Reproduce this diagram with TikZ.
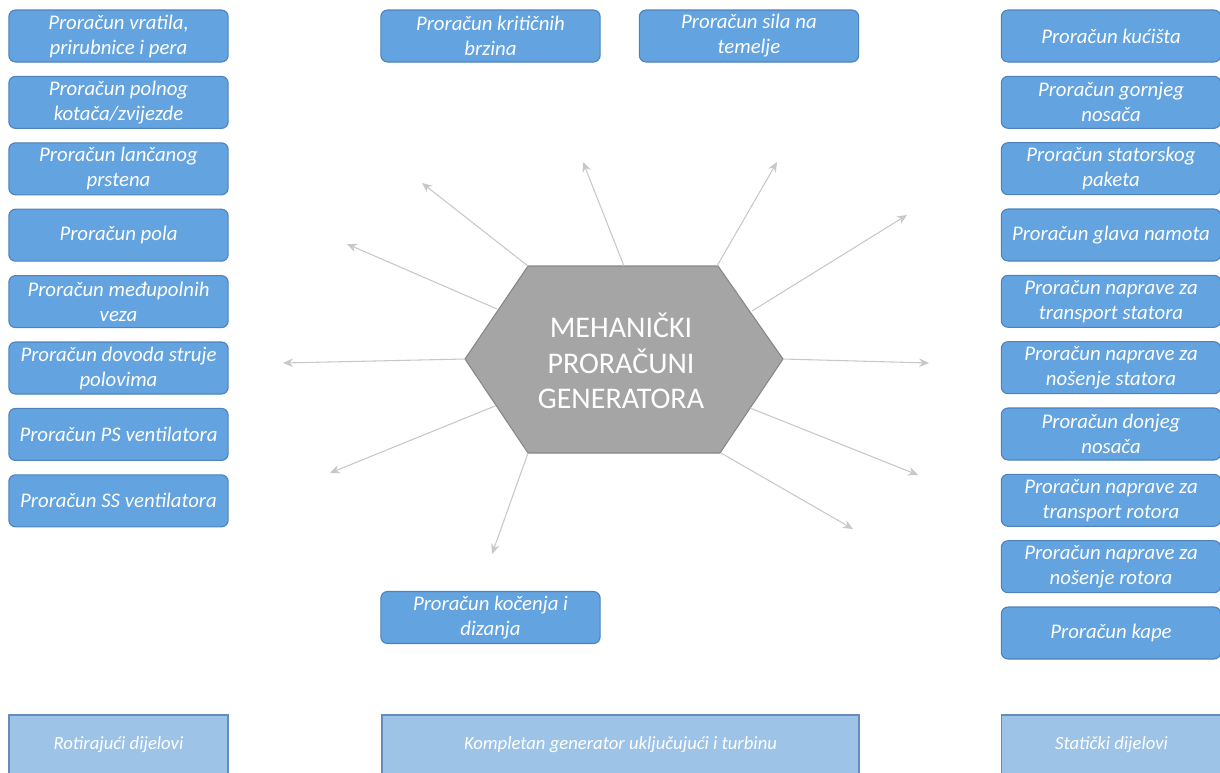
\documentclass[tikz,border=0pt]{standalone}
\usepackage{fontspec}
\setmainfont{Carlito}
\usetikzlibrary{arrows.meta}
\definecolor{boxfill}{RGB}{98,163,224}
\definecolor{boxline}{RGB}{78,130,186}
\definecolor{lightfill}{RGB}{157,195,230}
\definecolor{lightline}{RGB}{100,140,190}
\definecolor{hexfill}{RGB}{165,165,165}
\definecolor{hexline}{RGB}{135,135,135}
\definecolor{arrowgray}{RGB}{200,200,200}
\tikzset{
  calcbox/.style={draw=boxline, fill=boxfill, line width=0.8pt, rounded corners=5pt,
    text=white, align=center, inner sep=0pt,
    font=\itshape\fontsize{15.6}{18.8}\selectfont,
    minimum width=164.5pt, minimum height=39pt},
  groupbox/.style={draw=lightline, fill=lightfill, line width=0.8pt, inner sep=0pt},
  grouptext/.style={text=white, align=center, inner sep=0pt,
    font=\itshape\fontsize{14}{16}\selectfont},
  spoke/.style={draw=arrowgray, line width=0.8pt,
    -{Stealth[length=7.5pt,width=6.5pt,inset=2.5pt]}},
}
\begin{document}
\begin{tikzpicture}[x=0.75pt,y=-0.75pt]
\useasboundingbox (0,0) rectangle (1220,772);
\clip (0,0) rectangle (1220,772);

% hexagon
\coordinate (hL) at (465,359);
\coordinate (hTL) at (528,266);
\coordinate (hTR) at (718,266);
\coordinate (hR) at (783,359);
\coordinate (hBR) at (720,453);
\coordinate (hBL) at (528,453);
\draw[fill=hexfill, draw=hexline, line width=0.8pt] (hL) -- (hTL) -- (hTR) -- (hR) -- (hBR) -- (hBL) -- cycle;
\node[text=white, align=center, font=\fontsize{22.5}{26.5}\selectfont] (hex) at (621,361)
  {MEHANIČKI\\PRORAČUNI\\GENERATORA};

% spoke start points on the hexagon boundary
\coordinate (s1) at (528,266);
\coordinate (s2) at (497,309);
\coordinate (s3) at (624,266);
\coordinate (s4) at (717,266);
\coordinate (s5) at (752,311);
\coordinate (s6) at (783,359);
\coordinate (s7) at (750,408);
\coordinate (s8) at (721,453);
\coordinate (s9) at (528,453);
\coordinate (s10) at (495,406);
\coordinate (s11) at (465,359);
% free ends
\coordinate (e1) at (422,183);
\coordinate (e2) at (347,244);
\coordinate (e3) at (583,162);
\coordinate (e4) at (777,162);
\coordinate (e5) at (907,215);
\coordinate (e6) at (929,363);
\coordinate (e7) at (918,475);
\coordinate (e8) at (853,529);
\coordinate (e9) at (492,554);
\coordinate (e10) at (330,473);
\coordinate (e11) at (283,363);
\foreach \i in {1,...,11} {\draw[spoke] (s\i) -- (e\i);}

% left column
\node[calcbox] (l1) at (118.5,36) {Proračun vratila,\\prirubnice i pera};
\node[calcbox] (l2) at (118.5,102.4) {Proračun polnog\\kotača/zvijezde};
\node[calcbox] (l3) at (118.5,168.8) {Proračun lančanog\\prstena};
\node[calcbox] (l4) at (118.5,235.2) {Proračun pola};
\node[calcbox] (l5) at (118.5,301.6) {Proračun međupolnih\\veza};
\node[calcbox] (l6) at (118.5,368) {Proračun dovoda struje\\polovima};
\node[calcbox] (l7) at (118.5,434.4) {Proračun PS ventilatora};
\node[calcbox] (l8) at (118.5,500.8) {Proračun SS ventilatora};

% right column
\node[calcbox] (r1) at (1111,36) {Proračun kućišta};
\node[calcbox] (r2) at (1111,102.3) {Proračun gornjeg\\nosača};
\node[calcbox] (r3) at (1111,168.7) {Proračun statorskog\\paketa};
\node[calcbox] (r4) at (1111,235) {Proračun glava namota};
\node[calcbox] (r5) at (1111,301.3) {Proračun naprave za\\transport statora};
\node[calcbox] (r6) at (1111,367.7) {Proračun naprave za\\nošenje statora};
\node[calcbox] (r7) at (1111,434) {Proračun donjeg\\nosača};
\node[calcbox] (r8) at (1111,500.3) {Proračun naprave za\\transport rotora};
\node[calcbox] (r9) at (1111,566.7) {Proračun naprave za\\nošenje rotora};
\node[calcbox] (r10) at (1111,633) {Proračun kape};

% middle boxes
\node[calcbox] (m1) at (490.5,36) {Proračun kritičnih\\brzina};
\node[calcbox] (m2) at (749,36) {Proračun sila na\\temelje};
\node[calcbox] (m3) at (490.5,617.5) {Proračun kočenja i\\dizanja};

% group labels
\node[groupbox, minimum width=164.25pt, minimum height=48pt] (g1) at (118.5,747) {};
\node[grouptext] (g1t) at (118.5,745) {Rotirajući dijelovi};
\node[groupbox, minimum width=357.75pt, minimum height=48pt] (g2) at (620.5,747) {};
\node[grouptext] (g2t) at (620.5,745) {Kompletan generator uključujući i turbinu};
\node[groupbox, minimum width=165pt, minimum height=48pt] (g3) at (1111.5,747) {};
\node[grouptext] (g3t) at (1111.5,745) {Statički dijelovi};
\end{tikzpicture}
\end{document}
